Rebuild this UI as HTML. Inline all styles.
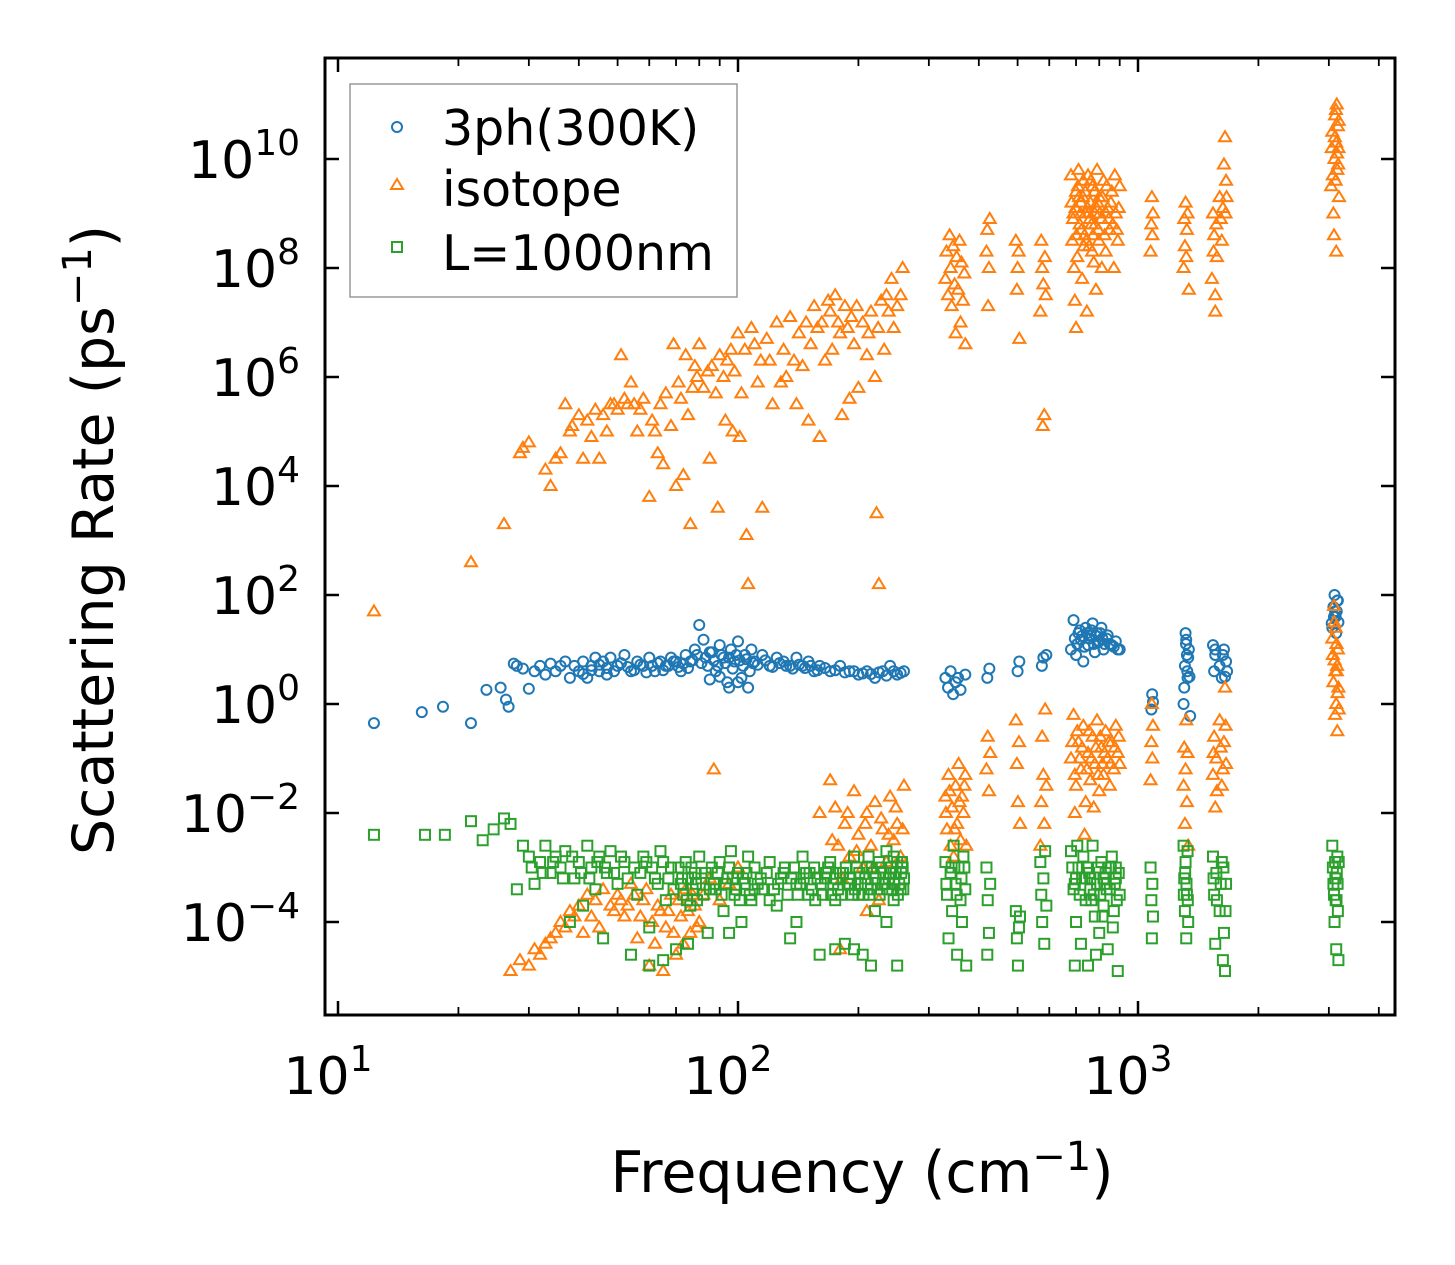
<!DOCTYPE html>
<html><head><meta charset="utf-8"><style>
html,body{margin:0;padding:0;background:#fff;}
svg{display:block;font-family:"DejaVu Sans","Liberation Sans",sans-serif;}
</style></head><body>
<svg id="chart" width="1455" height="1265" viewBox="0 0 1455 1265" xmlns="http://www.w3.org/2000/svg">
<rect width="1455" height="1265" fill="#fff"/>
<g id="marks"></g>
<g id="axes"></g>
<g id="legend">
<rect x="350" y="84" width="387" height="213" fill="#fff" fill-opacity="0.8" stroke="#999" stroke-width="1.5"/>
<g><circle cx="397" cy="127" r="5" fill="none" stroke="#1f77b4" stroke-width="2"/><text x="442" y="145" font-size="49">3ph(300K)</text></g>
<g><polygon points="397,179 403,189 391,189" fill="none" stroke="#ff7f0e" stroke-width="2"/><text x="442" y="206" font-size="49">isotope</text></g>
<g><rect x="392" y="242" width="10" height="10" fill="none" stroke="#2ca02c" stroke-width="2"/><text x="442" y="270" font-size="49">L=1000nm</text></g>
</g>
<text x="862" y="1192" font-size="57" text-anchor="middle">Frequency (cm<tspan dy="-22" font-size="40">−1</tspan><tspan dy="22">)</tspan></text>
<text transform="translate(113,540) rotate(-90)" font-size="57" text-anchor="middle">Scattering Rate (ps<tspan dy="-22" font-size="40">−1</tspan><tspan dy="22">)</tspan></text>
</svg>
<script>
// data: [frequency (cm^-1), log10(rate ps^-1)]
const xTickExps = [1, 2, 3];
const yTickExps = [-4, -2, 0, 2, 4, 6, 8, 10];
const phonon3Pts = [[12.3,-0.35],[16.2,-0.15],[18.3,-0.05],[21.5,-0.35],[23.5,0.26],[25.5,0.3],[26.3,0.08],[26.7,-0.05],[27.5,0.74],[28,0.7],[29,0.65],[30,0.28],[31,0.6],[32,0.7],[33,0.54],[34,0.74],[35,0.6],[36,0.7],[37,0.78],[38,0.48],[39,0.7],[40,0.6],[41,0.78],[42,0.48],[43,0.7],[44,0.85],[45,0.6],[46,0.78],[47,0.54],[48,0.85],[50,0.7],[52,0.9],[54,0.6],[56,0.78],[58,0.7],[60,0.85],[62,0.6],[64,0.78],[66,0.7],[68,0.85],[70,0.78],[72,0.6],[74,0.9],[76,0.78],[78,1.0],[80,1.45],[82,1.18],[84,0.7],[86,0.95],[88,0.6],[90,1.08],[92,0.85],[94,0.4],[96,1.0],[98,0.78],[100,1.15],[102,0.48],[104,0.9],[106,0.3],[108,1.0],[110,0.78],[115,0.9],[120,0.7],[125,0.85],[130,0.78],[135,0.7],[140,0.85],[145,0.7],[150,0.78],[155,0.6],[160,0.7],[170,0.6],[180,0.7],[190,0.6],[200,0.54],[210,0.6],[220,0.48],[230,0.6],[240,0.7],[250,0.54],[260,0.6],[330,0.48],[335,0.3],[340,0.6],[345,0.18],[350,0.4],[355,0.48],[360,0.26],[370,0.54],[420,0.48],[425,0.65],[500,0.6],[505,0.78],[575,0.7],[580,0.85],[590,0.9],[680,1.0],[690,1.54],[700,0.9],[710,1.3],[720,1.18],[730,0.78],[740,1.4],[750,1.08],[760,1.26],[770,1.48],[780,0.95],[790,1.3],[800,1.15],[810,1.4],[820,1.0],[840,1.26],[860,1.08],[880,1.15],[900,1.0],[1080,-0.1],[1085,0.18],[1090,0.04],[1300,0.0],[1310,0.7],[1320,1.18],[1330,0.48],[1340,1.0],[1350,-0.22],[1315,1.3],[1335,0.85],[1540,1.08],[1550,0.6],[1560,0.9],[1620,0.48],[1640,1.0],[1660,0.78],[3050,1.48],[3080,1.78],[3100,2.0],[3120,1.6],[3150,1.9],[3130,1.3],[3110,1.7],
[41,0.55],[43,0.62],[45,0.72],[47,0.66],[49,0.6],[51,0.75],[53,0.68],[55,0.62],[57,0.72],[59,0.58],[61,0.7],[63,0.75],[65,0.62],[67,0.7],[69,0.78],[71,0.68],[73,0.74],[75,0.66],[77,0.8],[79,0.9],[81,0.75],[83,0.85],[85,0.95],[87,0.8],[89,0.7],[91,0.9],[93,0.75],[95,0.85],[97,0.65],[99,0.9],[101,0.8],[103,0.7],[105,0.82],[107,0.6],[109,0.75],[112,0.72],[117,0.8],[122,0.68],[127,0.75],[132,0.7],[137,0.65],[142,0.72],[147,0.66],[152,0.7],[158,0.62],[165,0.66],[175,0.62],[185,0.58],[195,0.6],[205,0.56],[215,0.55],[225,0.58],[235,0.52],[245,0.6],[255,0.57],[90,0.5],[95,0.3],[85,0.45],[100,0.4],
[695,1.2],[705,1.1],[715,1.35],[725,1.25],[735,1.05],[745,1.3],[755,1.2],[765,1.35],[775,1.1],[785,1.25],[795,1.15],[805,1.3],[815,1.2],[825,1.1],[835,1.2],[850,1.1],[870,1.05],[890,1.0],[1305,0.3],[1325,0.9],[1345,0.5],[1318,1.1],[1328,0.6],[1560,1.0],[1600,0.7],[1630,0.9],[1650,0.5],[1670,0.6],[3060,1.4],[3090,1.6],[3140,1.7],[3160,1.9],[3170,1.5]];
const isotopePts = [[12.3,1.7],[21.5,2.6],[26,3.3],[28.5,4.6],[29,4.7],[30,4.8],[33,4.3],[34,4.0],[35,4.5],[36,4.6],[37,5.5],[38,5.0],[38.5,5.1],[40,5.3],[41,4.5],[42,5.2],[43,4.9],[44,5.4],[45,4.5],[46,5.3],[47,5.0],[48,5.5],[49,5.5],[50,5.4],[51,6.4],[52,5.6],[53,5.5],[54,5.9],[55,5.5],[56,5.0],[57,5.4],[58,5.6],[60,3.8],[61,5.2],[62,5.0],[63,4.6],[64,5.5],[65,4.4],[66,5.7],[68,5.1],[69,6.6],[70,4.0],[71,5.9],[72,5.6],[73,4.2],[74,6.4],[75,5.3],[76,3.3],[77,5.8],[78,6.2],[79,6.0],[80,6.6],[82,5.8],[84,6.1],[85,4.5],[86,6.2],[88,5.7],[89,3.6],[90,6.4],[92,6.0],[93,5.2],[94,6.3],[96,6.5],[97,5.0],[98,6.1],[100,6.8],[101,4.9],[102,5.7],[104,6.5],[105,3.1],[106,2.2],[108,6.9],[110,6.6],[112,5.9],[114,6.3],[115,3.6],[118,6.7],[120,6.3],[122,5.5],[125,7.0],[128,5.9],[130,6.5],[132,6.0],[135,7.1],[138,6.3],[140,5.5],[142,6.8],[145,6.2],[148,7.0],[150,5.2],[152,6.6],[155,7.3],[158,6.9],[160,4.9],[162,7.0],[165,6.3],[168,7.4],[170,7.2],[172,6.5],[175,7.5],[178,7.0],[180,6.8],[182,5.3],[185,7.3],[188,6.9],[190,5.6],[192,7.1],[195,6.6],[198,7.3],[200,5.8],[205,7.0],[210,6.4],[212,6.8],[215,7.2],[220,6.0],[222,3.5],[224,6.9],[225,2.2],[228,7.4],[232,6.5],[235,7.5],[238,7.2],[242,7.8],[245,6.9],[250,7.3],[255,7.5],[258,8.0],
[330,7.8],[332,8.3],[335,7.5],[338,8.6],[340,8.0],[342,7.3],[345,8.4],[348,7.7],[350,6.8],[352,8.2],[355,7.6],[358,8.5],[360,7.0],[362,8.1],[365,7.4],[368,7.9],[370,6.6],[418,8.3],[420,8.7],[422,7.3],[424,8.0],[426,8.9],[495,8.5],[498,7.6],[500,8.0],[503,8.3],[505,6.7],[570,7.2],[573,8.5],[576,8.0],[578,5.1],[580,7.7],[583,5.3],[585,8.2],[588,7.5],
[680,9.7],[685,8.5],[690,9.0],[695,7.4],[700,9.4],[705,8.2],[710,9.8],[715,8.8],[720,9.2],[725,7.8],[730,9.6],[735,8.6],[740,9.0],[745,7.2],[750,9.7],[755,8.4],[760,9.2],[765,8.8],[770,9.5],[775,8.1],[780,9.0],[785,7.6],[790,9.8],[795,8.7],[800,9.3],[810,8.9],[820,9.6],[830,8.3],[840,9.1],[850,8.7],[860,9.4],[870,8.0],[880,9.0],[890,8.5],[900,9.5],[692,8.0],[712,9.3],[732,8.4],[752,9.0],[772,8.6],[792,9.2],[812,8.0],[832,9.0],[700,6.9],
[1075,8.3],[1080,8.8],[1083,9.3],[1086,8.6],[1090,9.0],[1300,8.0],[1305,8.9],[1310,8.4],[1315,9.2],[1320,8.2],[1325,8.7],[1330,9.0],[1340,7.6],[1530,7.8],[1540,9.0],[1550,8.6],[1560,7.2],[1570,8.8],[1600,9.3],[1620,8.5],[1640,9.9],[1650,10.4],[1660,9.6],[1560,7.5],[3040,9.5],[3060,10.5],[3080,9.0],[3100,10.0],[3110,10.8],[3120,9.6],[3130,10.3],[3140,11.0],[3150,9.8],[3160,10.6],[3170,10.2],[3180,9.3],[3090,8.6],[3130,8.3],
[27,-4.9],[28.5,-4.7],[30,-4.8],[31,-4.5],[32,-4.6],[33,-4.4],[34,-4.3],[35,-4.2],[36,-4.0],[37,-4.1],[38,-3.8],[39,-3.9],[40,-3.7],[41,-4.2],[42,-3.5],[43,-3.9],[44,-3.6],[45,-4.1],[46,-3.4],[48,-3.7],[50,-3.5],[52,-3.9],[54,-3.3],[56,-4.3],[58,-3.6],[60,-4.8],[62,-4.4],[64,-3.8],[65,-4.9],[66,-4.1],[68,-3.5],[70,-4.6],[72,-3.9],[74,-3.4],[76,-4.2],[78,-3.7],[80,-4.0],[87,-1.2],[82,-3.5],[85,-3.2],[90,-3.6],[95,-3.3],[100,-3.0],
[170,-1.4],[175,-1.9],[178,-2.6],[182,-3.2],[185,-2.2],[190,-2.8],[195,-1.6],[200,-2.4],[205,-3.0],[210,-2.0],[215,-2.6],[220,-1.8],[225,-3.6],[230,-2.3],[235,-2.9],[240,-1.7],[245,-2.5],[250,-2.2],[255,-2.8],[260,-1.5],[180,-4.5],[210,-3.8],[160,-2.0],
[330,-1.7],[333,-2.3],[336,-1.3],[340,-2.6],[343,-1.9],[346,-2.8],[350,-1.5],[353,-2.2],[356,-1.1],[360,-2.5],[363,-1.7],[366,-2.0],[370,-1.3],[372,-2.6],[418,-1.2],[421,-0.6],[424,-1.6],[427,-0.9],[495,-0.3],[498,-1.1],[501,-1.8],[504,-0.7],[507,-2.2],[570,-2.6],[573,-1.8],[576,-0.6],[580,-1.3],[583,-2.2],[586,-0.1],[590,-1.5],
[680,-1.0],[690,-0.2],[700,-1.5],[710,-0.7],[720,-1.2],[730,-0.4],[740,-1.8],[750,-0.9],[760,-1.4],[770,-0.6],[780,-1.1],[790,-0.3],[800,-1.6],[810,-0.8],[820,-1.3],[830,-0.5],[840,-1.0],[850,-1.5],[860,-0.7],[870,-1.2],[880,-0.4],[890,-0.9],[900,-1.1],[695,-2.0],[735,-2.4],[775,-1.9],
[1075,-1.4],[1080,-0.7],[1083,0.0],[1086,-1.0],[1090,-0.4],[1300,-1.5],[1305,-0.8],[1310,-2.2],[1315,-1.2],[1320,-0.3],[1325,-1.8],[1330,-0.9],[1335,-2.6],[1540,-1.3],[1550,-0.6],[1560,-1.9],[1570,-1.0],[1600,-0.3],[1620,-1.5],[1640,-0.7],[1650,0.3],[1660,-1.1],[3060,1.2],[3080,0.4],[3100,0.8],[3110,-0.2],[3120,1.4],[3130,0.0],[3140,0.6],[3150,-0.5],[3160,1.0],[3170,0.3],
[682,9.2],[688,8.9],[698,9.1],[702,8.6],[708,9.5],[718,9.0],[722,8.7],[728,9.3],[738,9.4],[742,8.5],[748,9.1],[758,8.9],[762,9.6],[768,8.3],[778,9.4],[782,8.8],[788,9.1],[798,8.5],[802,9.0],[815,9.3],[825,8.6],[835,9.5],[845,8.9],[855,9.2],[865,8.8],[875,9.7],[885,8.7],[895,9.1],
[685,-0.7],[695,-1.3],[705,-0.5],[715,-1.0],[725,-0.8],[745,-1.2],[755,-0.5],[765,-1.0],[785,-0.8],[795,-1.3],[805,-0.6],[815,-1.1],[825,-0.9],[845,-0.7],[855,-1.1],[875,-0.8],[895,-0.6],
[3050,10.2],[3070,9.7],[3105,10.4],[3125,10.9],[3145,10.1],[3165,9.9],[3175,10.7],[3070,0.9],[3095,1.5],[3115,0.6],[3135,1.1],[3155,0.2],[3175,-0.1],[3090,1.8],[3145,0.7],
[1545,8.3],[1575,8.2],[1610,8.9],[1630,9.1],[1655,9.0],[1665,9.3],[1545,-0.9],[1575,-1.6],[1610,-0.8],[1630,-1.2],[1655,-0.4],
[331,-2.0],[338,-1.6],[348,-2.3],[358,-1.8],[368,-1.5],
[49,-3.8],[51,-3.6],[53,-3.7],[55,-3.5],[57,-3.9],[59,-3.4],[61,-4.0],[63,-3.7],[67,-3.8],[69,-4.2],[71,-3.6],[73,-4.4],[75,-3.8],[77,-3.5],[79,-4.1],
[172,-2.5],[188,-2.0],[198,-2.7],[208,-2.2],[218,-3.0],[228,-2.1],[238,-2.4],[248,-1.9],[258,-2.3]];
const boundaryPts = [[12.3,-2.4],[16.5,-2.4],[18.5,-2.4],[21.5,-2.15],[23,-2.5],[24.5,-2.3],[26,-2.1],[27,-2.2],[28,-3.4],[29,-2.6],[30,-2.8],[31,-3.3],[32,-2.9],[33,-2.6],[34,-3.1],[35,-2.8],[36,-3.0],[37,-2.7],[38,-4.0],[39,-3.2],[40,-2.9],[41,-3.7],[42,-2.6],[43,-3.0],[44,-3.4],[45,-2.8],[46,-4.3],[47,-3.1],[48,-2.7],[50,-3.3],[52,-2.9],[54,-4.6],[55,-3.0],[56,-3.5],[58,-2.8],[60,-4.1],[62,-3.2],[64,-2.7],[66,-3.6],[68,-3.0],[70,-4.5],[72,-3.3],[74,-2.9],[76,-3.7],[78,-3.1],[80,-2.8],[82,-3.5],[84,-4.2],[86,-3.0],[88,-3.4],[90,-2.9],[92,-3.8],[94,-3.2],[96,-2.7],[98,-3.5],[100,-3.1],[102,-4.0],[104,-3.3],[106,-2.8],[108,-3.6],[110,-3.0],[115,-3.4],[120,-2.9],[125,-3.7],[130,-3.1],[135,-4.3],[140,-3.3],[145,-2.8],[150,-3.5],[155,-3.0],[160,-4.6],[165,-3.2],[170,-2.9],[175,-3.6],[180,-3.1],[185,-4.4],[190,-3.3],[195,-2.8],[200,-3.5],[205,-4.6],[210,-3.0],[215,-3.4],[220,-3.8],[225,-2.9],[230,-3.3],[235,-4.0],[240,-3.1],[245,-3.6],[250,-2.9],[255,-3.4],[260,-3.2],
[71,-3.0],[73,-3.5],[75,-3.2],[77,-3.4],[79,-3.6],[83,-3.1],[87,-3.3],[91,-3.5],[95,-3.0],[99,-3.4],[103,-3.2],[107,-3.5],[112,-3.3],[118,-3.1],[123,-3.4],[128,-3.2],[133,-3.5],[138,-3.0],[143,-3.3],[148,-3.1],[153,-3.4],[158,-3.2],[163,-3.5],[168,-3.0],[173,-3.3],[178,-3.4],[183,-3.1],[188,-3.3],[193,-3.5],[198,-3.0],[203,-3.3],[208,-3.2],[213,-3.5],[218,-3.1],[223,-3.4],[228,-3.0],[233,-3.3],[238,-3.2],[243,-3.4],[248,-3.1],[253,-3.3],[258,-3.0],[60,-4.8],[65,-4.7],[75,-4.4],[95,-4.2],[140,-4.0],[175,-4.5],[195,-4.5],[215,-4.8],[250,-4.8],
[330,-2.9],[333,-3.5],[336,-4.3],[340,-3.1],[343,-3.8],[346,-2.6],[350,-3.3],[353,-4.6],[356,-3.0],[360,-3.6],[363,-4.0],[366,-2.8],[370,-3.4],[372,-4.8],[418,-3.0],[421,-3.6],[424,-4.2],[427,-3.3],[420,-4.6],[495,-3.8],[498,-4.3],[501,-4.8],[504,-4.1],[507,-3.9],[570,-2.9],[573,-3.5],[576,-4.0],[580,-3.2],[583,-4.4],[586,-2.7],[590,-3.7],
[680,-2.7],[690,-3.4],[700,-4.0],[710,-3.0],[720,-4.4],[730,-2.8],[740,-3.6],[750,-4.8],[760,-3.2],[770,-2.6],[780,-3.9],[790,-3.3],[800,-4.2],[810,-2.9],[820,-3.7],[830,-3.1],[840,-4.5],[850,-3.4],[860,-2.8],[870,-3.8],[880,-3.2],[890,-4.9],[900,-3.5],[695,-4.8],[735,-3.2],[775,-3.5],[815,-3.9],[855,-3.0],[705,-2.6],[745,-3.0],[785,-4.6],[825,-3.3],[865,-4.1],
[1075,-3.0],[1080,-3.6],[1083,-4.3],[1086,-3.3],[1090,-3.9],[1300,-2.6],[1305,-3.2],[1310,-3.8],[1315,-2.9],[1320,-4.3],[1325,-3.5],[1330,-2.7],[1335,-4.0],[1540,-2.8],[1550,-3.5],[1560,-4.4],[1570,-3.1],[1600,-3.8],[1620,-2.9],[1640,-4.2],[1650,-4.9],[1660,-3.3],[1630,-4.7],[3060,-2.6],[3080,-3.3],[3100,-4.0],[3110,-2.9],[3120,-3.6],[3130,-4.5],[3140,-3.1],[3150,-2.8],[3160,-3.8],[3170,-4.7],
[30.5,-3.0],[32.5,-3.1],[34.5,-2.9],[36.5,-3.2],[38.5,-2.8],[40.5,-3.1],[42.5,-3.2],[44.5,-2.9],[46.5,-3.0],[49,-3.1],[51,-2.8],[53,-3.2],[57,-3.1],[59,-2.9],[61,-3.0],[63,-3.3],[65,-2.9],[67,-3.2],[69,-3.4],[72.5,-3.2],[74.5,-3.6],[76.5,-3.0],[78.5,-3.3],[81,-3.2],[85,-3.4],[89,-3.1],[93,-3.3],[97,-3.2],[101,-3.6],[105,-3.1],[110,-3.4],[114,-3.2],[120,-3.6],[126,-3.3],[131,-3.0],[136,-3.2],[141,-3.5],[146,-3.2],[151,-3.1],[156,-3.6],[161,-3.3],[166,-3.1],[171,-3.5],[176,-3.2],[181,-3.5],[186,-3.0],[191,-3.2],[196,-3.4],[201,-3.1],[206,-3.5],[211,-3.3],[216,-3.0],[221,-3.2],[226,-3.5],[231,-3.1],[236,-3.4],[241,-3.0],[246,-3.3],[251,-3.5],[256,-3.1],[259,-3.4],[257,-2.9],[245,-2.8],[235,-2.7],[212,-2.8],
[685,-3.0],[695,-3.3],[715,-3.5],[725,-3.2],[755,-3.1],[765,-3.6],[795,-3.0],[805,-3.5],[835,-3.4],[845,-3.0],[875,-3.3],[885,-3.6],[895,-3.1],[700,-3.2],[760,-3.4],[820,-3.2],[880,-3.0],
[3070,-3.0],[3090,-3.5],[3115,-3.2],[3135,-3.6],[3155,-3.3],[3175,-2.9],[1302,-3.5],[1312,-3.1],[1322,-3.3],[1332,-3.6],[1545,-3.2],[1575,-3.6],[1610,-3.3],[1635,-3.0],[1655,-3.8],[332,-3.3],[342,-3.0],[352,-3.5],[362,-3.2],[368,-3.0]];

const NS = 'http://www.w3.org/2000/svg';
const L = 325, R = 1395, T = 58, B = 1015;
function xs(f) { return 338 + 400 * Math.log10(f / 10); }
function ys(lg) { return 704 - 54.5 * lg; }
function mk(tag, attrs, parent) {
  const e = document.createElementNS(NS, tag);
  for (const k in attrs) e.setAttribute(k, attrs[k]);
  parent.appendChild(e);
  return e;
}
const marks = document.getElementById('marks');
const axes = document.getElementById('axes');

phonon3Pts.forEach(p => {
  const c = mk('circle', {cx: xs(p[0]), cy: ys(p[1]), r: 5, fill: 'none', stroke: '#1f77b4', 'stroke-width': 2}, marks);
  
  
});
isotopePts.forEach(p => {
  const x = xs(p[0]), y = ys(p[1]);
  const t = mk('polygon', {points: `${x},${y-6} ${x+6},${y+4} ${x-6},${y+4}`, fill: 'none', stroke: '#ff7f0e', 'stroke-width': 2}, marks);
  
  
});
boundaryPts.forEach(p => {
  const s = mk('rect', {x: xs(p[0]) - 5, y: ys(p[1]) - 5, width: 10, height: 10, fill: 'none', stroke: '#2ca02c', 'stroke-width': 2}, marks);
  
  
});

const frame = mk('rect', {x: L, y: T, width: R - L, height: B - T, fill: 'none', stroke: '#000', 'stroke-width': 3}, axes);



for (let d = 0; d <= 3; d++) {
  for (let m = 1; m <= 9; m++) {
    const f = Math.pow(10, d) * m;
    const x = xs(f);
    if (x < L || x > R) continue;
    const len = m === 1 ? 14 : 8;
    const w = m === 1 ? 2.5 : 1.8;
    mk('line', {x1: x, y1: B, x2: x, y2: B - len, stroke: '#000', 'stroke-width': w}, axes);
    mk('line', {x1: x, y1: T, x2: x, y2: T + len, stroke: '#000', 'stroke-width': w}, axes);
  }
}
xTickExps.forEach(e => {
  const x = xs(Math.pow(10, e));
  const t = mk('text', {x: x - 10, y: 1094, 'font-size': 52, 'text-anchor': 'middle'}, axes);
  
  
  t.textContent = '10';
  const s = mk('tspan', {dy: -23, 'font-size': 36}, t);
  s.textContent = String(e);
});
yTickExps.forEach(e => {
  const y = ys(e);
  mk('line', {x1: L, y1: y, x2: L + 14, y2: y, stroke: '#000', 'stroke-width': 2.5}, axes);
  mk('line', {x1: R, y1: y, x2: R - 14, y2: y, stroke: '#000', 'stroke-width': 2.5}, axes);
  const lab = e < 0 ? '\u2212' + Math.abs(e) : String(e);
  const t = mk('text', {x: 300, y: y + 19, 'font-size': 52, 'text-anchor': 'end'}, axes);
  
  
  t.textContent = '10';
  const s = mk('tspan', {dy: -23, 'font-size': 36}, t);
  s.textContent = lab;
});
</script>
</body></html>
